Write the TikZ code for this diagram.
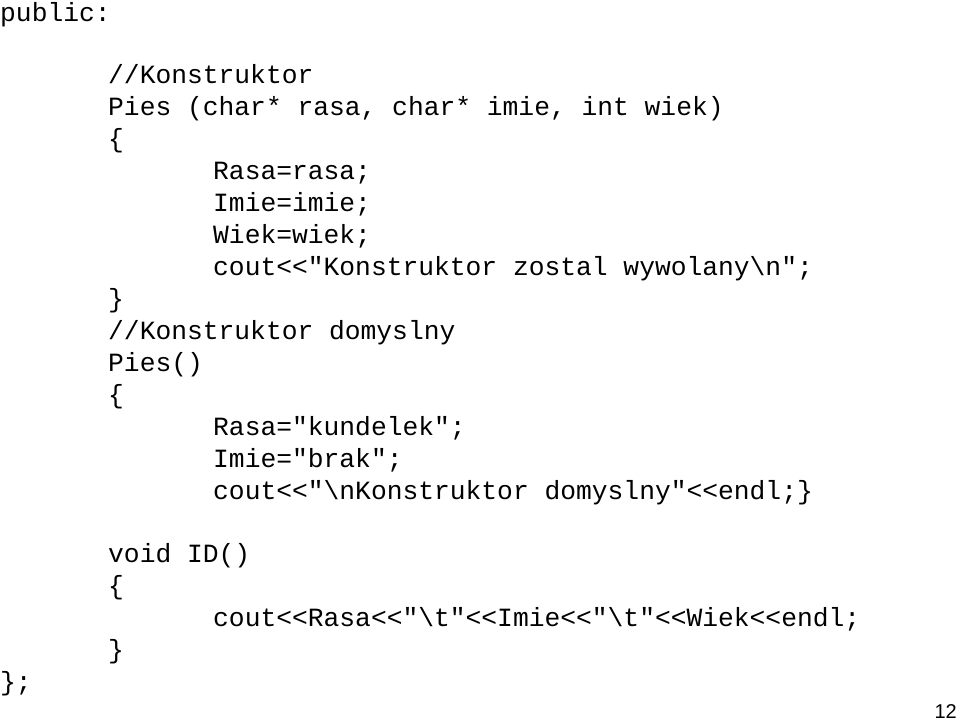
\documentclass[tikz,border=0pt]{standalone}
\usepackage{fontspec}
\setmonofont{Liberation Mono}
\setsansfont{Liberation Sans}
\begin{document}
\begin{tikzpicture}[x=1pt,y=-1pt,
  code/.style={anchor=base west,inner sep=0pt,font=\fontsize{26.3}{30}\ttfamily}]
\useasboundingbox (0,0) rectangle (959,721);
\node[code] (l0) at (0,21) {public:};
\node[code] (l1) at (108,83) {//Konstruktor};
\node[code] (l2) at (108,115) {Pies (char* rasa, char* imie, int wiek)};
\node[code] (l3) at (108,147) {\{};
\node[code] (l4) at (213,179) {Rasa=rasa;};
\node[code] (l5) at (213,211) {Imie=imie;};
\node[code] (l6) at (213,243) {Wiek=wiek;};
\node[code] (l7) at (213,275) {cout<<"Konstruktor zostal wywolany\textbackslash n";};
\node[code] (l8) at (108,307) {\}};
\node[code] (l9) at (108,339) {//Konstruktor domyslny};
\node[code] (l10) at (108,371) {Pies()};
\node[code] (l11) at (108,403) {\{};
\node[code] (l12) at (213,435) {Rasa="kundelek";};
\node[code] (l13) at (213,467) {Imie="brak";};
\node[code] (l14) at (213,499) {cout<<"\textbackslash nKonstruktor domyslny"<<endl;\}};
\node[code] (l15) at (108,562) {void ID()};
\node[code] (l16) at (108,594) {\{};
\node[code] (l17) at (213,626) {cout<<Rasa<<"\textbackslash t"<<Imie<<"\textbackslash t"<<Wiek<<endl;};
\node[code] (l18) at (108,658) {\}};
\node[code] (l19) at (0,690) {\};};
\node[anchor=base east,inner sep=0pt,font=\fontsize{20}{24}\sffamily] (pg) at (957,718) {12};
\end{tikzpicture}
\end{document}
